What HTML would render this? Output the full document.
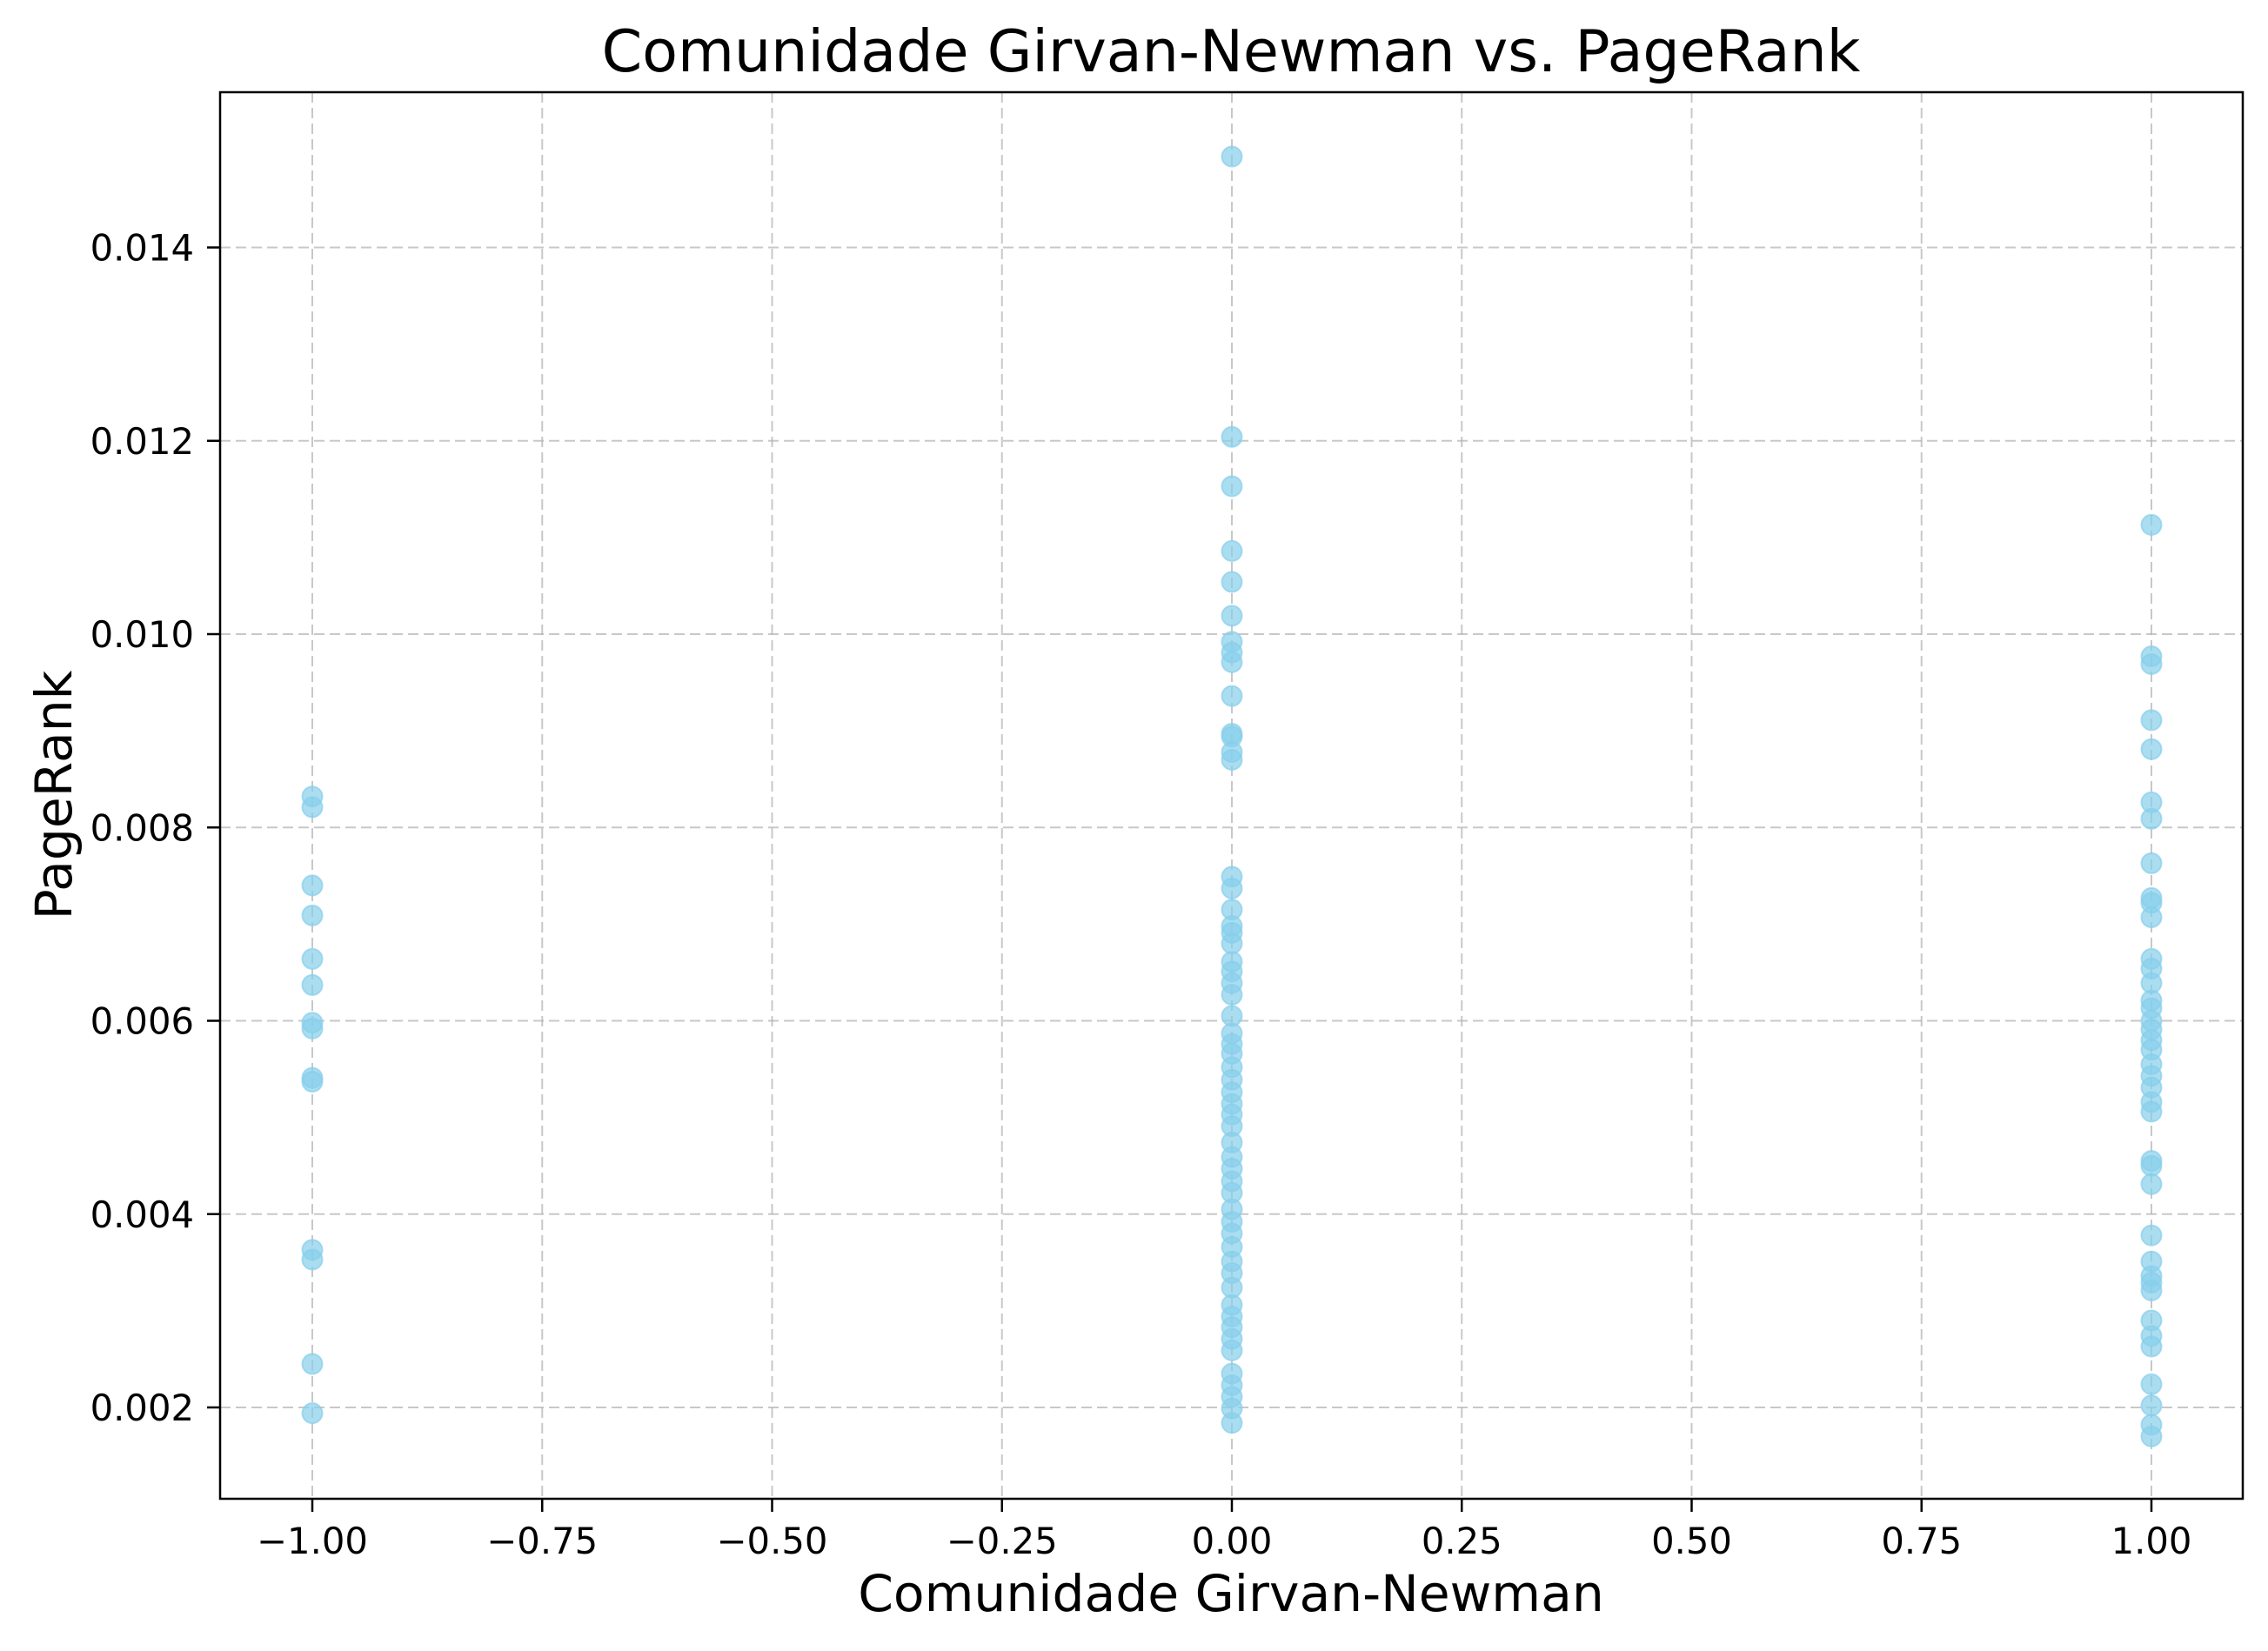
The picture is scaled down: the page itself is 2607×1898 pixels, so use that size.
<!DOCTYPE html>
<html><head><meta charset="utf-8"><style>
html,body{margin:0;padding:0;background:#fff;}
svg{display:block;}
text{font-family:"DejaVu Sans","Liberation Sans",sans-serif;fill:#000;}
</style></head><body>
<svg id="chart" width="2607" height="1898" viewBox="0 0 2607 1898" xmlns="http://www.w3.org/2000/svg">
<rect width="2607" height="1898" fill="#fff"/>
<g id="grid"></g>
<g id="points"></g>
<rect x="253" y="106" width="2325" height="1617" fill="none" stroke="#000" stroke-width="2.5"/>
<g id="ticks"></g>
<text x="1415" y="82" font-size="66.7" text-anchor="middle">Comunidade Girvan-Newman vs. PageRank</text>
<text x="1415" y="1852" font-size="58.3" text-anchor="middle">Comunidade Girvan-Newman</text>
<text x="0" y="0" font-size="58.3" text-anchor="middle" transform="translate(82,914) rotate(-90)">PageRank</text>
</svg>
<script>
const xTicks = [-1, -0.75, -0.5, -0.25, 0, 0.25, 0.5, 0.75, 1];
const xTickLabels = ["−1.00","−0.75","−0.50","−0.25","0.00","0.25","0.50","0.75","1.00"];
const yTicks = [0.002, 0.004, 0.006, 0.008, 0.010, 0.012, 0.014];
const yTickLabels = ["0.002","0.004","0.006","0.008","0.010","0.012","0.014"];
const communityNeg = [0.00832,0.00821,0.00740,0.00709,0.00664,0.00637,0.00598,0.00592,0.00541,0.00537,0.00363,0.00353,0.00245,0.00194];
const communityZero = [0.01494,0.01204,0.01153,0.01086,0.01054,0.01019,0.00992,0.00981,0.00971,0.00936,0.00897,0.00894,0.00878,0.00870,0.00749,0.00737,0.00715,0.00698,0.00691,0.00680,0.00661,0.00651,0.00639,0.00627,0.00605,0.00587,0.00576,0.00566,0.00552,0.00539,0.00526,0.00514,0.00503,0.00491,0.00474,0.00459,0.00447,0.00434,0.00422,0.00405,0.00392,0.00380,0.00366,0.00351,0.00339,0.00324,0.00306,0.00294,0.00283,0.00271,0.00259,0.00235,0.00223,0.00211,0.00199,0.00184];
const communityOne = [0.01113,0.00977,0.00969,0.00911,0.00881,0.00826,0.00809,0.00763,0.00727,0.00722,0.00707,0.00664,0.00654,0.00639,0.00621,0.00613,0.00600,0.00591,0.00580,0.00570,0.00555,0.00543,0.00531,0.00516,0.00506,0.00455,0.00450,0.00431,0.00378,0.00351,0.00336,0.00329,0.00321,0.00290,0.00274,0.00263,0.00224,0.00202,0.00182,0.00170];

const NS = "http://www.w3.org/2000/svg";
const L = 253, R = 2578, T = 106, B = 1723;
function xScale(v){ return 359 + (v + 1) / 2 * (2473 - 359); }
function yScale(v){ return 1618 - (v - 0.002) / 0.012 * (1618 - 284.5); }
function mk(tag, attrs, parent){ const e = document.createElementNS(NS, tag); for (const k in attrs) e.setAttribute(k, attrs[k]); parent.appendChild(e); return e; }

const grid = document.getElementById('grid');
const ticks = document.getElementById('ticks');
const pts = document.getElementById('points');

xTicks.forEach((v, i) => {
  const x = xScale(v);
  const g = mk('line', {x1:x, x2:x, y1:T, y2:B, stroke:'#b0b0b0', 'stroke-opacity':0.7, 'stroke-width':2, 'stroke-dasharray':'12 6'}, grid);
  
  
  const t = mk('line', {x1:x, x2:x, y1:B, y2:B + 15, stroke:'#000', 'stroke-width':2.5}, ticks);
  
  
  const lb = mk('text', {x:x, y:1786, 'font-size':'41.7', 'text-anchor':'middle'}, ticks);
  lb.textContent = xTickLabels[i];
  
  
});
yTicks.forEach((v, i) => {
  const y = yScale(v);
  const g = mk('line', {x1:L, x2:R, y1:y, y2:y, stroke:'#b0b0b0', 'stroke-opacity':0.7, 'stroke-width':2, 'stroke-dasharray':'12 6'}, grid);
  
  
  const t = mk('line', {x1:L - 15, x2:L, y1:y, y2:y, stroke:'#000', 'stroke-width':2.5}, ticks);
  
  
  const lb = mk('text', {x:223, y:y + 15, 'font-size':'41.7', 'text-anchor':'end'}, ticks);
  lb.textContent = yTickLabels[i];
  
  
});
function drawSeries(xv, arr){
  arr.forEach(v => {
    const c = mk('circle', {cx:xScale(xv), cy:yScale(v), r:11.5, fill:'#87CEEB', 'fill-opacity':0.7, stroke:'#87CEEB', 'stroke-opacity':0.7, 'stroke-width':2}, pts);
    
    
  });
}
drawSeries(-1, communityNeg);
drawSeries(0, communityZero);
drawSeries(1, communityOne);
</script>
</body></html>
